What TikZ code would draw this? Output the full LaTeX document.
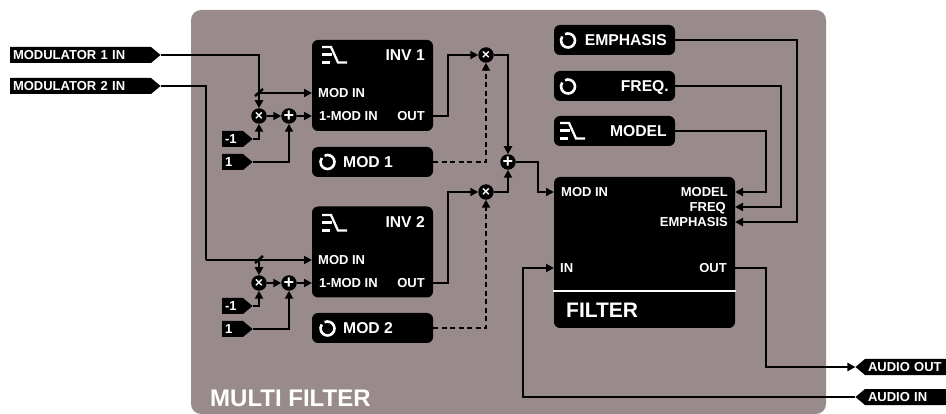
\documentclass[tikz,border=0pt]{standalone}
\usepackage{fontspec}
\setmainfont{Liberation Sans}
\usetikzlibrary{arrows.meta,shapes.symbols}
\definecolor{panelgrey}{RGB}{153,139,139}
\tikzset{
  wire/.style={line width=2.4pt},
  feed/.style={wire,-{Triangle[length=8pt,width=8pt]}},
  modfeed/.style={feed,dash pattern=on 5pt off 3.5pt},
  blackbox/.style={fill=black,rounded corners=6pt,minimum width=121pt,inner sep=0pt,outer sep=0pt},
  oper/.style={circle,fill=black,text=white,minimum size=15.5pt,inner sep=0pt,outer sep=0pt,font=\bfseries\fontsize{14}{14}\selectfont},
  port/.style={text=white,inner sep=0pt,text depth=0pt,font=\bfseries\fontsize{13}{13}\selectfont},
  title/.style={text=white,inner sep=0pt,text depth=0pt,font=\bfseries\fontsize{15.7}{15.7}\selectfont},
  tagin/.style={signal,signal to=east,signal from=nowhere,signal pointer angle=80,fill=black,port,minimum height=16pt,inner xsep=3pt,inner ysep=0pt,outer sep=0pt,align=left},
  tagout/.style={tagin,signal to=west},
  knobring/.style={draw=white,line width=2.6pt},
  slopeline/.style={draw=white,line width=2.3pt}
}
\begin{document}
\begin{tikzpicture}[x=1pt,y=-1pt]
  \useasboundingbox (0,0) rectangle (946,414);
  \fill[panelgrey,rounded corners=10pt] (191,10) rectangle (826,414);
  \node[port,anchor=west,font=\bfseries\fontsize{24}{24}\selectfont] (paneltitle) at (210,398) {MULTI FILTER};

  \node[tagin,text width=135pt,anchor=west] (modA) at (10,55) {MODULATOR 1 IN};
  \node[tagin,text width=135pt,anchor=west] (modB) at (10,86) {MODULATOR 2 IN};
  \node[tagout,text width=77pt,anchor=east] (aout) at (948,367) {AUDIO OUT};
  \node[tagout,text width=77pt,anchor=east] (ain) at (948,397) {AUDIO IN};

  \node[blackbox,minimum height=91pt] (invA) at (372.5,85.5) {};
  \node[blackbox,minimum height=91pt] (invB) at (372.5,252) {};
  \node[blackbox,minimum height=30pt] (knobA) at (372.5,162) {};
  \node[blackbox,minimum height=30pt] (knobB) at (372.5,328) {};
  \node[blackbox,minimum height=30pt] (emph) at (614.5,40) {};
  \node[blackbox,minimum height=30pt] (freq) at (614.5,86) {};
  \node[blackbox,minimum height=30pt] (model) at (614.5,131) {};
  \node[blackbox,minimum width=181pt,minimum height=151pt] (filter) at (644.5,252.5) {};
  \draw[white,wire] (553,291) -- (736,291);

  \node[title,anchor=east] (invAname) at (425,55) {INV 1};
  \node[title,anchor=east] (invBname) at (425,222) {INV 2};
  \node[title,anchor=west] (knobAname) at (343,162) {MOD 1};
  \node[title,anchor=west] (knobBname) at (343,328) {MOD 2};
  \node[title,anchor=east] (emphname) at (667,40) {EMPHASIS};
  \node[title,anchor=east] (freqname) at (669,86) {FREQ.};
  \node[title,anchor=east] (modelname) at (667,131) {MODEL};
  \node[title,anchor=west,font=\bfseries\fontsize{21}{21}\selectfont] (filtername) at (566,310) {FILTER};

  \node[port,anchor=west] (invAmod) at (318,93) {MOD IN};
  \node[port,anchor=west] (invAinv) at (319,116) {1-MOD IN};
  \node[port,anchor=east] (invAout) at (425,116) {OUT};
  \node[port,anchor=west] (invBmod) at (318,260) {MOD IN};
  \node[port,anchor=west] (invBinv) at (319,283) {1-MOD IN};
  \node[port,anchor=east] (invBout) at (425,283) {OUT};
  \node[port,anchor=west] (filtermod) at (561,192) {MOD IN};
  \node[port,anchor=east] (filtermodel) at (728,192) {MODEL};
  \node[port,anchor=east] (filterfreq) at (726,207) {FREQ};
  \node[port,anchor=east] (filteremph) at (728,222) {EMPHASIS};
  \node[port,anchor=west] (filterin) at (560,268) {IN};
  \node[port,anchor=east] (filterout) at (727,268) {OUT};

  \foreach \x/\y in {327.5/162, 327.5/328.5, 568/40.5, 568/86.5}{
    \draw[knobring] ([shift={(115:7pt)}]\x,\y) arc[start angle=115,end angle=-215,radius=7pt];
  }
  \foreach \x/\y in {322/47, 322/215, 560/123}{
    \draw[slopeline] (\x,\y) -- ({\x+9},\y) -- ({\x+16},{\y+15.5}) -- ({\x+25},{\y+15.5});
    \draw[slopeline] (\x,{\y+7.5}) -- ({\x+10},{\y+7.5});
    \draw[slopeline] (\x,{\y+15.5}) -- ({\x+8},{\y+15.5});
  }

  \node[tagin,text width=15pt,anchor=west] (negA) at (222,139) {-1};
  \node[tagin,text width=15pt,anchor=west] (oneA) at (222,162) {1};
  \node[tagin,text width=15pt,anchor=west] (negB) at (222,306) {-1};
  \node[tagin,text width=15pt,anchor=west] (oneB) at (222,329) {1};

  \node[oper] (mulA) at (259,116) {×};
  \node[oper,font=\bfseries\fontsize{18}{18}\selectfont] (addA) at (289,116) {+};
  \node[oper] (mulB) at (259,283) {×};
  \node[oper,font=\bfseries\fontsize{18}{18}\selectfont] (addB) at (289,283) {+};
  \node[oper] (mulC) at (486,55) {×};
  \node[oper] (mulD) at (486,192) {×};
  \node[oper,font=\bfseries\fontsize{18}{18}\selectfont] (addC) at (508,162) {+};

  \coordinate (jointA) at (259,93);
  \coordinate (jointB) at (259,260);
  \coordinate (bendB) at (206,260);

  \draw[feed] (modA.east) -| (mulA);
  \draw[feed] (jointA) -- (invA.west |- invAmod);
  \draw[wire] ([shift={(-4,3)}]jointA) -- ([shift={(4,-4)}]jointA);
  \draw[feed] (mulA) -- (addA);
  \draw[feed] (addA) -- (invA.west |- invAinv);
  \draw[feed] (negA.east) -| (mulA);
  \draw[feed] (oneA.east) -| (addA);

  \draw[wire] (modB.east) -| (bendB);
  \draw[feed] (bendB) -- (invB.west |- invBmod);
  \draw[feed] (jointB) -- (mulB);
  \draw[wire] ([shift={(-4,3)}]jointB) -- ([shift={(4,-4)}]jointB);
  \draw[feed] (mulB) -- (addB);
  \draw[feed] (addB) -- (invB.west |- invBinv);
  \draw[feed] (negB.east) -| (mulB);
  \draw[feed] (oneB.east) -| (addB);

  \draw[feed] (invA.east |- invAout) -- (448,116) |- (mulC);
  \draw[feed] (invB.east |- invBout) -- (448,283) |- (mulD);
  \draw[modfeed] (knobA) ++(60.5,0) -| (mulC);
  \draw[modfeed] (knobB) ++(60.5,0) -| (mulD);
  \draw[feed] (mulC) -| (addC);
  \draw[feed] (mulD) -| (addC);
  \draw[feed] (addC) -- (538,162) |- (filter.west |- filtermod);

  \draw[feed] (model.east) -- (766,131) |- (filter.east |- filtermodel);
  \draw[feed] (freq.east) -- (781,86) |- (filter.east |- filterfreq);
  \draw[feed] (emph.east) -- (797,40) |- (filter.east |- filteremph);
  \draw[feed] (filter.east |- filterout) -- (766,268) |- (aout.west);
  \draw[feed] (ain.west) -- (523,397) |- (filter.west |- filterin);
\end{tikzpicture}
\end{document}
